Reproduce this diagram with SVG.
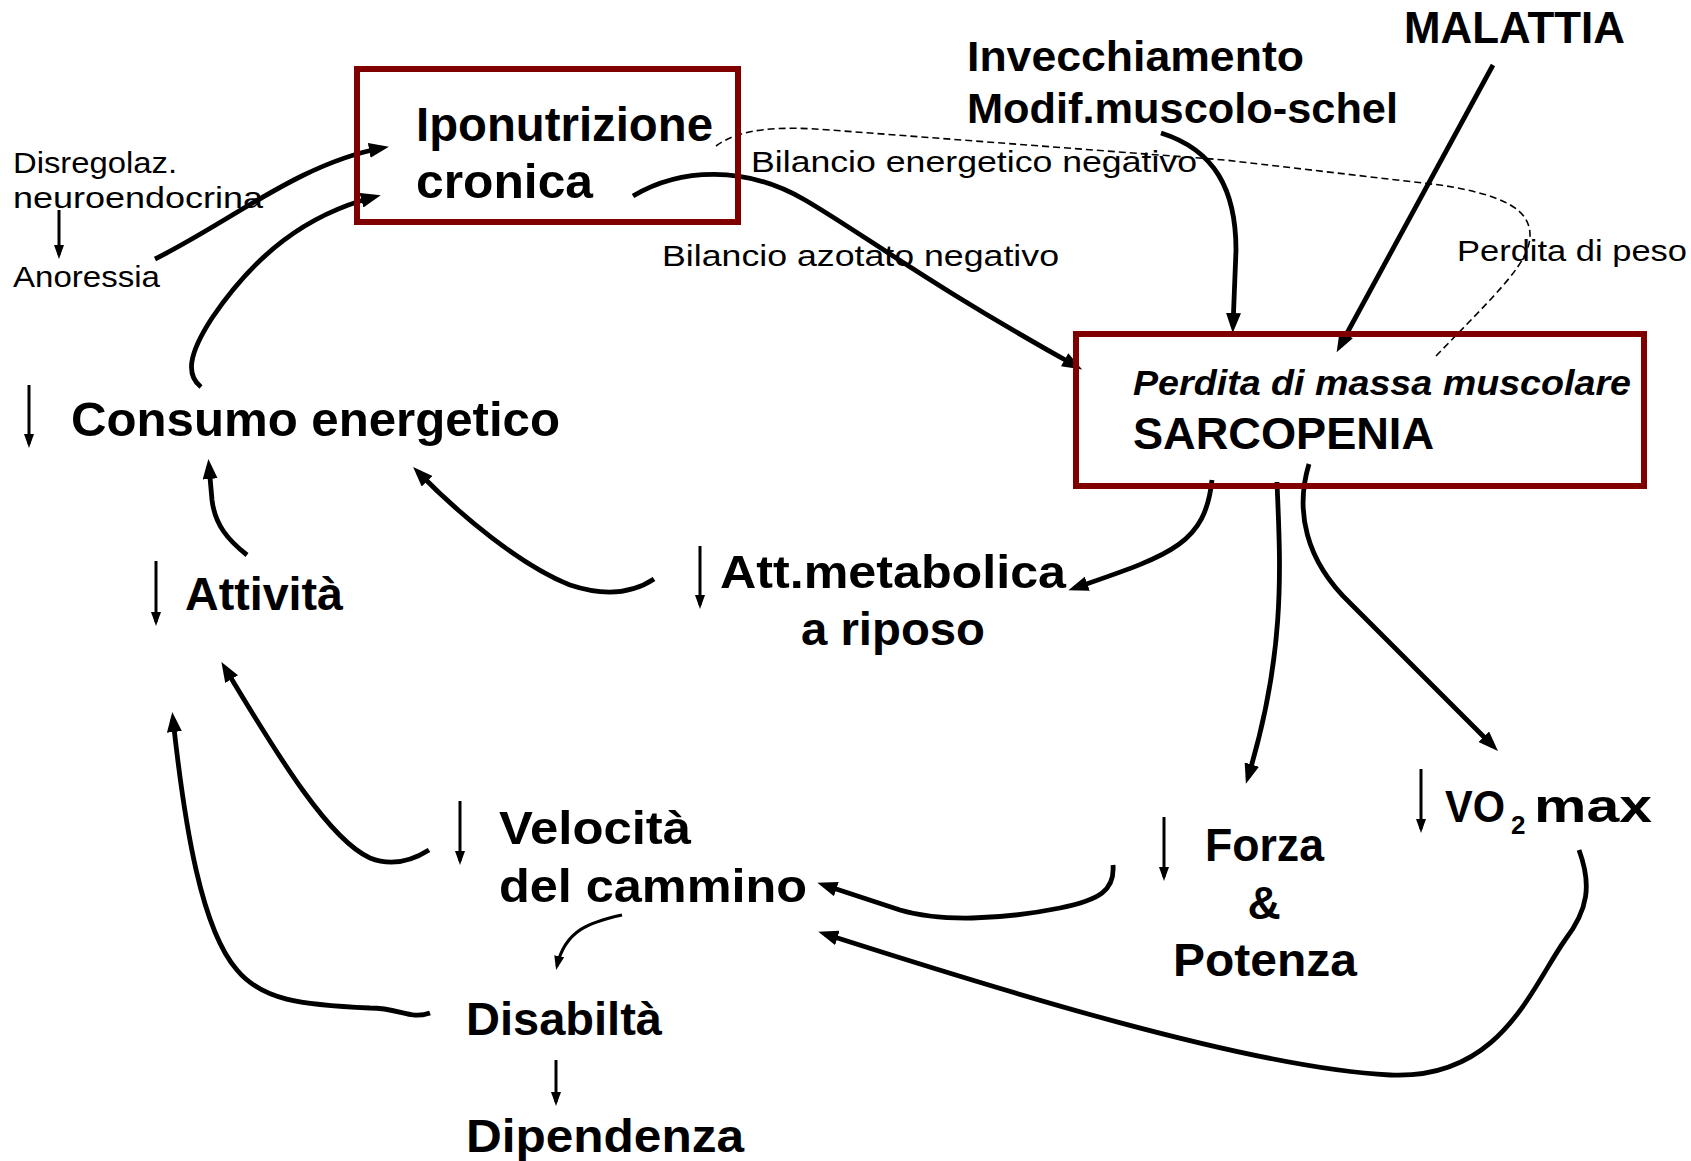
<svg xmlns="http://www.w3.org/2000/svg" width="1691" height="1161" viewBox="0 0 1691 1161">
<style>
.big{font-family:"Liberation Sans",Arial,sans-serif;font-weight:bold;font-size:48px;fill:#000}
.med{font-family:"Liberation Sans",Arial,sans-serif;font-weight:bold;font-size:42px;fill:#000}
.sm{font-family:"Liberation Sans",Arial,sans-serif;font-weight:normal;font-size:30px;fill:#000}
.box{fill:none;stroke:#800000;stroke-width:6}
.c{fill:none;stroke:#000;stroke-width:4.8;marker-end:url(#ah)}
.t{fill:none;stroke:#000;stroke-width:3;marker-end:url(#sh)}
.d{fill:none;stroke:#000;stroke-width:1.6;stroke-dasharray:7 4}
</style>
<defs>
<marker id="ah" viewBox="0 0 20 15" refX="13" refY="7.5" markerWidth="20" markerHeight="15" orient="auto" markerUnits="userSpaceOnUse"><path d="M0,0 L20,7.5 L0,15 z" fill="#000"/></marker>
<marker id="sh" viewBox="0 0 14 10" refX="10" refY="5" markerWidth="14" markerHeight="10" orient="auto" markerUnits="userSpaceOnUse"><path d="M0,0 L14,5 L0,10 z" fill="#000"/></marker>
</defs>
<rect width="1691" height="1161" fill="#fff"/>

<g id="connectors">
<path class="c" d="M155,259 C230,222 300,163 382,148"/>
<path class="c" d="M201,387 C186,375 188,355 212,318 C255,255 305,215 374,197"/>
<path class="c" d="M633,196 C680,168 745,165 805,200 C860,232 930,285 1076,366"/>
<path class="c" d="M1161,133 C1215,150 1236,190 1236,250 L1233,326"/>
<path class="c" d="M1493,65 L1340,346"/>
<path class="d" d="M716,146 C740,128 780,126 830,130 L1225,160 L1440,185 C1505,195 1530,210 1530,235 C1530,262 1500,290 1436,356"/>
<path class="c" d="M1212,480 C1205,545 1170,555 1075,588"/>
<path class="c" d="M1277,482 C1280,560 1287,650 1248,777"/>
<path class="c" d="M1309,464 C1295,510 1305,560 1350,603 L1493,746"/>
<path class="c" d="M654,579 C630,595 600,595 570,585 C520,565 460,515 418,472"/>
<path class="c" d="M247,555 C228,540 215,525 212,500 L209,466"/>
<path class="c" d="M429,850 C410,862 390,866 370,858 C330,840 280,760 225,668"/>
<path class="c" d="M430,1013 C410,1020 400,1008 370,1008 C300,1005 262,1000 237,970 C202,930 185,830 173,719"/>
<path class="c" d="M1113,865 C1115,890 1100,900 1060,908 C1000,920 940,922 900,910 C870,900 845,892 824,885"/>
<path class="c" d="M1579,850 C1592,885 1588,910 1565,940 C1530,990 1500,1080 1390,1075 C1250,1068 1000,990 825,934"/>
<path class="t" d="M622,915 C590,922 565,930 557,966"/>
<path class="t" d="M59,210 L59,255"/>
<path class="t" d="M556,1060 L556,1102"/>
<path class="t" d="M29,385 L29,444"/>
<path class="t" d="M156,561 L156,622"/>
<path class="t" d="M700,546 L700,605"/>
<path class="t" d="M460,801 L460,861"/>
<path class="t" d="M1164,817 L1164,877"/>
<path class="t" d="M1421,769 L1421,829"/>
</g>

<g id="iponutrizione">
<rect class="box" x="357" y="69" width="381" height="153"/>
<text class="big" x="416" y="141" textLength="297" lengthAdjust="spacingAndGlyphs">Iponutrizione</text>
<text class="big" x="416" y="198" textLength="177" lengthAdjust="spacingAndGlyphs">cronica</text>
</g>

<g id="disregolazione">
<text class="sm" x="13" y="173" textLength="164" lengthAdjust="spacingAndGlyphs">Disregolaz.</text>
<text class="sm" x="13" y="208" textLength="250" lengthAdjust="spacingAndGlyphs">neuroendocrina</text>
</g>
<g id="anoressia">
<text class="sm" x="13" y="287" textLength="147" lengthAdjust="spacingAndGlyphs">Anoressia</text>
</g>

<g id="consumo">
<text class="big" x="71" y="436" textLength="489" lengthAdjust="spacingAndGlyphs">Consumo energetico</text>
</g>

<g id="invecchiamento">
<text class="med" x="967" y="71" textLength="337" lengthAdjust="spacingAndGlyphs">Invecchiamento</text>
<text class="med" x="967" y="123" textLength="431" lengthAdjust="spacingAndGlyphs">Modif.muscolo-schel</text>
</g>

<g id="malattia">
<text class="big" x="1404" y="43" textLength="221" lengthAdjust="spacingAndGlyphs" style="font-size:44px">MALATTIA</text>
</g>

<g id="labels">
<text class="sm" x="751" y="172" textLength="446" lengthAdjust="spacingAndGlyphs">Bilancio energetico negativo</text>
<text class="sm" x="662" y="266" textLength="397" lengthAdjust="spacingAndGlyphs">Bilancio azotato negativo</text>
<text class="sm" x="1457" y="261" textLength="230" lengthAdjust="spacingAndGlyphs">Perdita di peso</text>
</g>

<g id="sarcopenia">
<rect class="box" x="1076" y="334" width="568" height="152"/>
<text class="big" x="1133" y="395" style="font-size:35px;font-style:italic" textLength="498" lengthAdjust="spacingAndGlyphs">Perdita di massa muscolare</text>
<text class="big" x="1133" y="449" style="font-size:44px" textLength="301" lengthAdjust="spacingAndGlyphs">SARCOPENIA</text>
</g>

<g id="attivita">
<text class="big" x="185" y="610" style="font-size:46px" textLength="158" lengthAdjust="spacingAndGlyphs">Attività</text>
</g>

<g id="attmetabolica">
<text class="big" x="720" y="588" style="font-size:46px" textLength="346" lengthAdjust="spacingAndGlyphs">Att.metabolica</text>
<text class="big" x="801" y="645" style="font-size:46px" textLength="184" lengthAdjust="spacingAndGlyphs">a riposo</text>
</g>

<g id="velocita">
<text class="big" x="499" y="844" style="font-size:46px" textLength="192" lengthAdjust="spacingAndGlyphs">Velocità</text>
<text class="big" x="499" y="902" style="font-size:46px" textLength="308" lengthAdjust="spacingAndGlyphs">del cammino</text>
</g>

<g id="forza">
<text class="big" x="1205" y="861" style="font-size:46px" textLength="119" lengthAdjust="spacingAndGlyphs">Forza</text>
<text class="big" x="1264" y="919" style="font-size:46px" text-anchor="middle">&amp;</text>
<text class="big" x="1173" y="976" style="font-size:46px" textLength="184" lengthAdjust="spacingAndGlyphs">Potenza</text>
</g>

<g id="vo2max">
<text class="big" x="1445" y="822" style="font-size:44px" textLength="60" lengthAdjust="spacingAndGlyphs">VO</text>
<text class="big" x="1511" y="834" style="font-size:26px">2</text>
<text class="big" x="1534" y="822" style="font-size:46px" textLength="118" lengthAdjust="spacingAndGlyphs">max</text>
</g>

<g id="disabilita">
<text class="big" x="466" y="1035" style="font-size:46px" textLength="196" lengthAdjust="spacingAndGlyphs">Disabiltà</text>
</g>

<g id="dipendenza">
<text class="big" x="466" y="1152" style="font-size:46px" textLength="278" lengthAdjust="spacingAndGlyphs">Dipendenza</text>
</g>
</svg>
